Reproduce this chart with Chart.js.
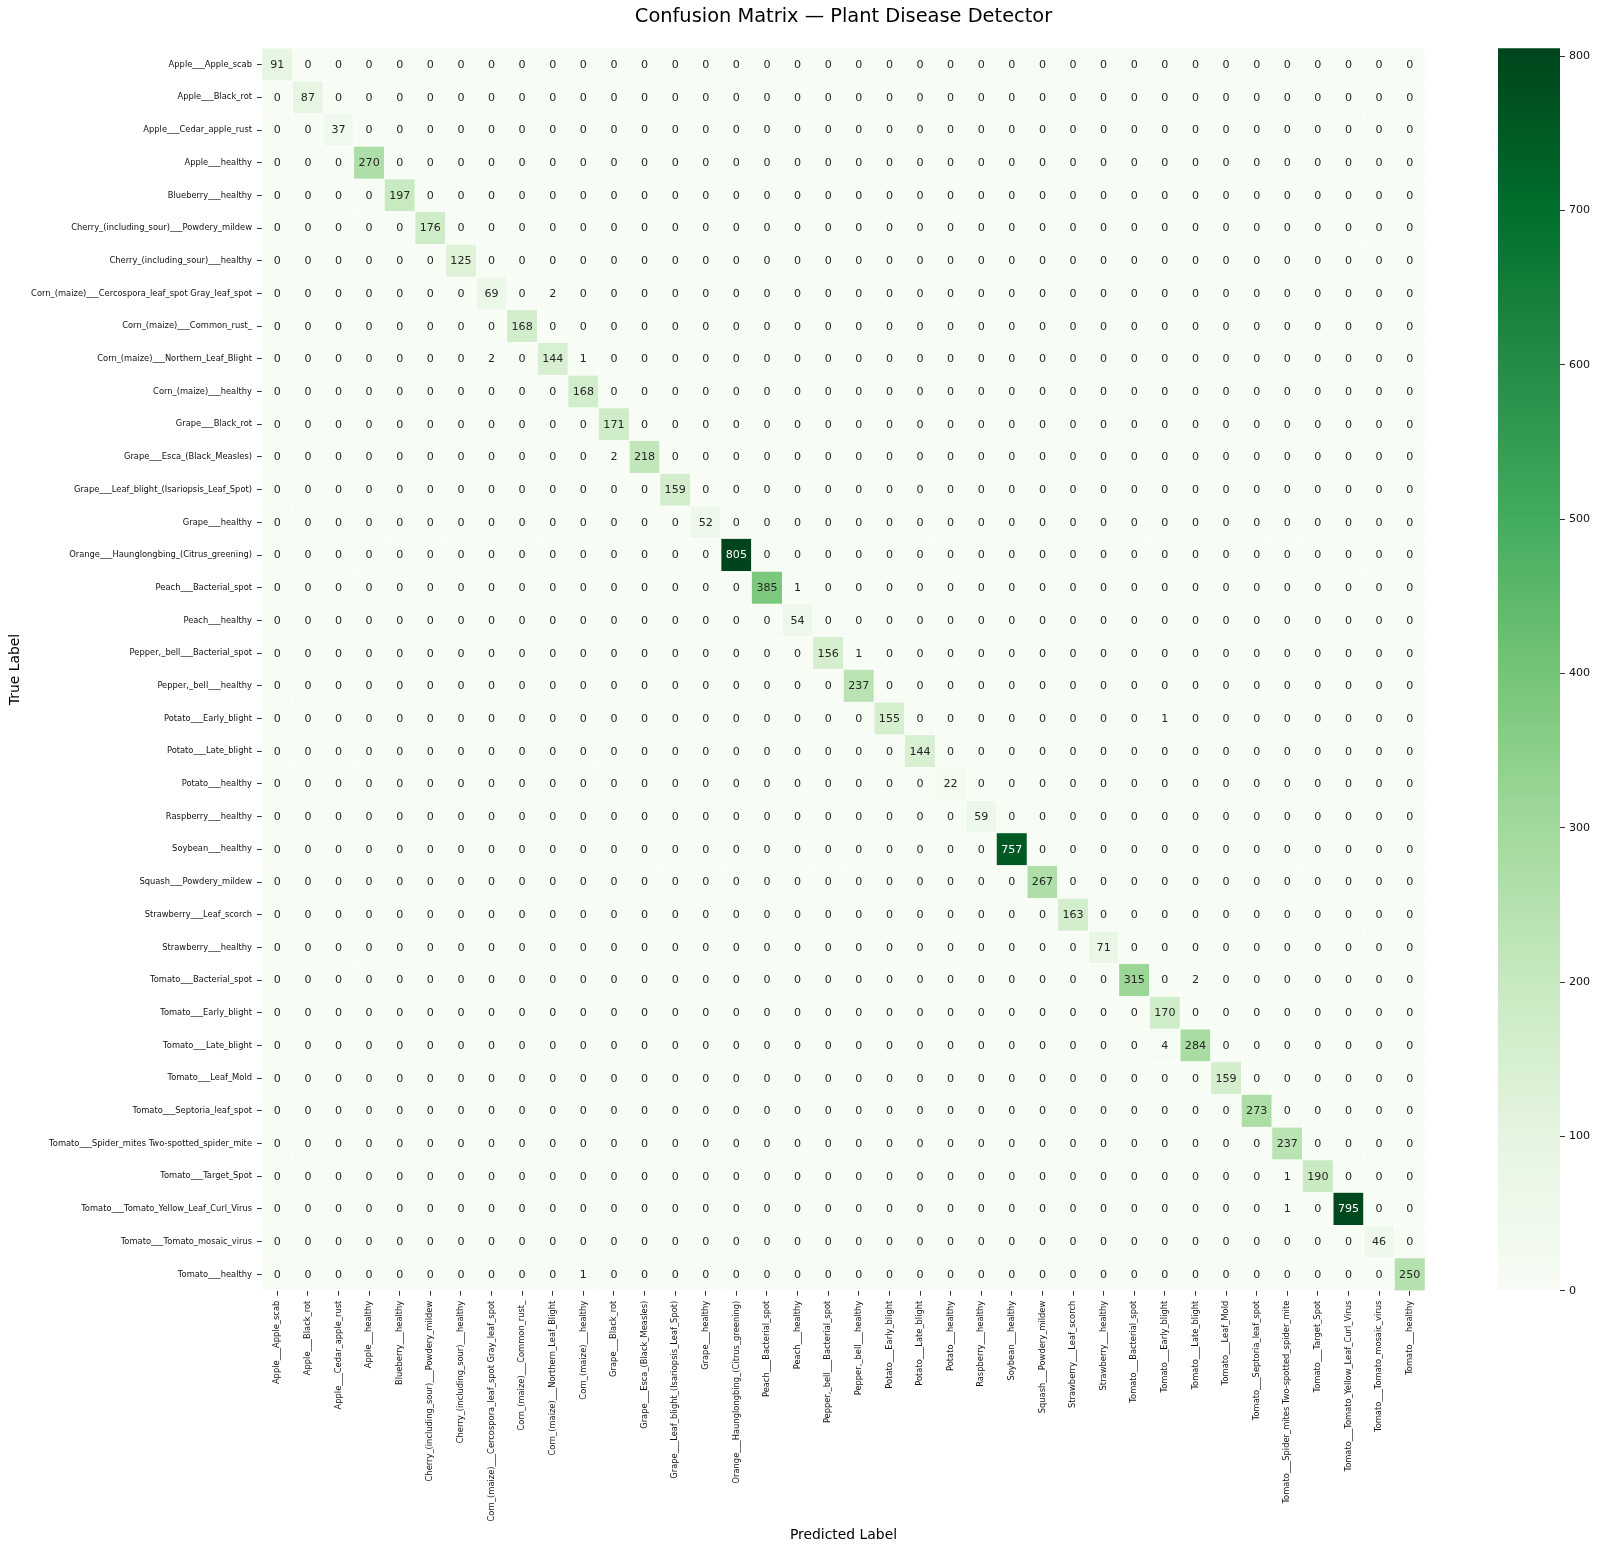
<!DOCTYPE html>
<html>
<head>
<meta charset="utf-8">
<title>Confusion Matrix — Plant Disease Detector</title>
<script src="https://cdn.jsdelivr.net/npm/chart.js@4.4.1/dist/chart.umd.min.js"></script>
<style>
  html, body { margin: 0; padding: 0; background: #fff; }
  #wrap { position: relative; width: 1600px; height: 1552px; }
  #cm { position: absolute; left: 0; top: 0; }
  #cb { position: absolute; left: 1480px; top: 0; }
</style>
</head>
<body>
<div id="wrap">
  <canvas id="cm" width="1600" height="1552"></canvas>
  <canvas id="cb" width="120" height="1552"></canvas>
</div>
<script>
// class names (rows = true, columns = predicted)
const classes = [
  'Apple___Apple_scab', 'Apple___Black_rot', 'Apple___Cedar_apple_rust', 'Apple___healthy',
  'Blueberry___healthy', 'Cherry_(including_sour)___Powdery_mildew', 'Cherry_(including_sour)___healthy',
  'Corn_(maize)___Cercospora_leaf_spot Gray_leaf_spot', 'Corn_(maize)___Common_rust_',
  'Corn_(maize)___Northern_Leaf_Blight', 'Corn_(maize)___healthy', 'Grape___Black_rot',
  'Grape___Esca_(Black_Measles)', 'Grape___Leaf_blight_(Isariopsis_Leaf_Spot)', 'Grape___healthy',
  'Orange___Haunglongbing_(Citrus_greening)', 'Peach___Bacterial_spot', 'Peach___healthy',
  'Pepper,_bell___Bacterial_spot', 'Pepper,_bell___healthy', 'Potato___Early_blight',
  'Potato___Late_blight', 'Potato___healthy', 'Raspberry___healthy', 'Soybean___healthy',
  'Squash___Powdery_mildew', 'Strawberry___Leaf_scorch', 'Strawberry___healthy',
  'Tomato___Bacterial_spot', 'Tomato___Early_blight', 'Tomato___Late_blight', 'Tomato___Leaf_Mold',
  'Tomato___Septoria_leaf_spot', 'Tomato___Spider_mites Two-spotted_spider_mite', 'Tomato___Target_Spot',
  'Tomato___Tomato_Yellow_Leaf_Curl_Virus', 'Tomato___Tomato_mosaic_virus', 'Tomato___healthy'
];
// diagonal (correct predictions)
const correct = [91, 87, 37, 270, 197, 176, 125, 69, 168, 144, 168, 171, 218, 159, 52, 805, 385, 54,
  156, 237, 155, 144, 22, 59, 757, 267, 163, 71, 315, 170, 284, 159, 273, 237, 190, 795, 46, 250];
// off-diagonal counts: [true row, predicted col, count]
const misses = [
  [7, 9, 2], [9, 7, 2], [9, 10, 1], [12, 11, 2], [16, 17, 1], [18, 19, 1],
  [20, 29, 1], [28, 30, 2], [30, 29, 4], [34, 33, 1], [35, 33, 1], [37, 10, 1]
];
const cbTicks = [0, 100, 200, 300, 400, 500, 600, 700, 800];
const vmax = 805;

// matplotlib "Greens"
const greens = [[247,252,245],[229,245,224],[199,233,192],[161,217,155],[116,196,118],
  [65,171,93],[35,139,69],[0,109,44],[0,68,27]];
const FONT = 'DejaVu Sans';

function greenAt(t) {
  t = Math.max(0, Math.min(1, t)) * 8;
  const i = Math.min(7, Math.floor(t)), f = t - i;
  return greens[i].map((c, k) => Math.round(c + (greens[i + 1][k] - c) * f));
}
function lum(rgb) {
  const l = rgb.map(c => { c /= 255; return c <= 0.03928 ? c / 12.92 : Math.pow((c + 0.055) / 1.055, 2.4); });
  return 0.2126 * l[0] + 0.7152 * l[1] + 0.0722 * l[2];
}

// build cell list
const matrix = classes.map(() => classes.map(() => 0));
correct.forEach((v, i) => { matrix[i][i] = v; });
misses.forEach(([r, c, v]) => { matrix[r][c] = v; });
const cells = [];
matrix.forEach((row, r) => row.forEach((v, c) => cells.push({ x: classes[c], y: classes[r], v: v })));

// draws the heatmap cells at the points placed by the scales
const heatmap = {
  id: 'heatmap',
  beforeDatasetsDraw(chart) {
    const { ctx, scales: { x, y } } = chart;
    const w = x.width / classes.length, h = y.height / classes.length;
    const meta = chart.getDatasetMeta(0);
    ctx.save();
    meta.data.forEach((pt, i) => {
      const rgb = greenAt(cells[i].v / vmax);
      ctx.fillStyle = 'rgb(' + rgb.join(',') + ')';
      ctx.fillRect(pt.x - w / 2, pt.y - h / 2, w, h);
      ctx.strokeStyle = 'rgba(255,255,255,0.8)';
      ctx.lineWidth = 0.6;
      ctx.strokeRect(pt.x - w / 2, pt.y - h / 2, w, h);
    });
    ctx.font = '11.1px "' + FONT + '"';
    ctx.textAlign = 'center';
    ctx.textBaseline = 'middle';
    meta.data.forEach((pt, i) => {
      const rgb = greenAt(cells[i].v / vmax);
      ctx.fillStyle = lum(rgb) > 0.408 ? 'rgb(38,38,38)' : '#ffffff';
      ctx.fillText(String(cells[i].v), pt.x, pt.y + 0.5);
    });
    ctx.restore();
  }
};

const tickFont = { family: FONT, size: 8.33 };
const gridOpts = { display: true, drawOnChartArea: false, offset: false, tickLength: 5, tickWidth: 1, tickColor: '#333' };

new Chart(document.getElementById('cm'), {
  type: 'scatter',
  data: { datasets: [{ data: cells, pointRadius: 0, pointHoverRadius: 0 }] },
  options: {
    responsive: false,
    animation: false,
    devicePixelRatio: 1,
    layout: { padding: { top: 0, left: 0, right: 175, bottom: 0 } },
    plugins: {
      legend: { display: false },
      tooltip: { enabled: false },
      title: {
        display: true,
        fullSize: false,
        text: 'Confusion Matrix — Plant Disease Detector',
        color: '#000',
        font: { family: FONT, size: 19.4, weight: 'normal' },
        padding: { top: 5.7, bottom: 19.3 }
      }
    },
    scales: {
      x: {
        type: 'category', labels: classes, offset: true, position: 'bottom',
        grid: gridOpts,
        border: { display: false },
        ticks: { autoSkip: false, minRotation: 90, maxRotation: 90, padding: 5, color: '#111', font: tickFont },
        title: { display: true, text: 'Predicted Label', color: '#000', font: { family: FONT, size: 13.9 }, padding: { top: 0, bottom: 8 } },
        afterFit(s) { s.height = 261.3; }
      },
      y: {
        type: 'category', labels: classes, offset: true, position: 'left',
        grid: gridOpts,
        border: { display: false },
        ticks: { autoSkip: false, padding: 5, color: '#111', font: tickFont },
        title: { display: true, text: 'True Label', color: '#000', font: { family: FONT, size: 13.9 }, padding: { top: 7, bottom: 0 } },
        afterFit(s) { s.width = 262; }
      }
    }
  },
  plugins: [heatmap]
});

// colour bar
new Chart(document.getElementById('cb'), {
  type: 'bar',
  data: {
    labels: [''],
    datasets: [{
      data: [[0, vmax]],
      borderWidth: 0,
      barPercentage: 1,
      categoryPercentage: 1,
      backgroundColor(c) {
        const area = c.chart.chartArea;
        if (!area) return 'rgb(116,196,118)';
        const g = c.chart.ctx.createLinearGradient(0, area.bottom, 0, area.top);
        greens.forEach((col, i) => g.addColorStop(i / 8, 'rgb(' + col.join(',') + ')'));
        return g;
      }
    }]
  },
  options: {
    responsive: false,
    animation: false,
    devicePixelRatio: 1,
    layout: { padding: { left: 18, right: 0, top: 48.3, bottom: 261.3 } },
    plugins: { legend: { display: false }, tooltip: { enabled: false } },
    scales: {
      x: { display: false },
      y: {
        position: 'right', min: 0, max: vmax,
        afterBuildTicks(s) { s.ticks = cbTicks.map(v => ({ value: v })); },
        afterFit(s) { s.width = 40; },
        grid: { drawOnChartArea: false, tickLength: 5, tickWidth: 1, tickColor: '#333' },
        border: { display: false },
        ticks: { padding: 4, color: '#111', font: { family: FONT, size: 11.1 } }
      }
    }
  }
});
</script>
</body>
</html>
